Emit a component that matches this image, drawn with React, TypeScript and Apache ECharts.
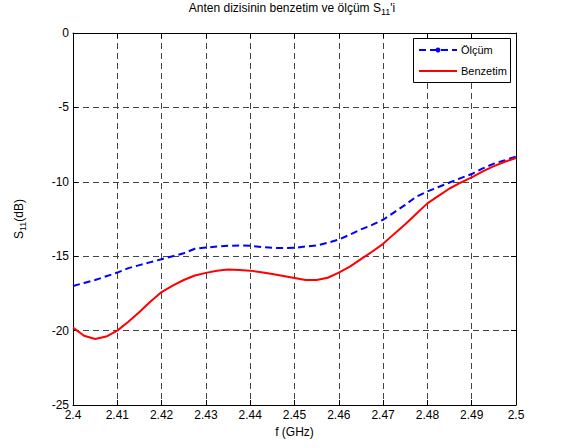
import React, { useEffect, useRef } from "react";
import * as echarts from "echarts";

const freq = [
  2.4, 2.4025, 2.405, 2.4075, 2.41, 2.4125, 2.415, 2.4175, 2.42, 2.4225,
  2.425, 2.4275, 2.43, 2.4325, 2.435, 2.4375, 2.44, 2.4425, 2.445, 2.4475,
  2.45, 2.4525, 2.455, 2.4575, 2.46, 2.4625, 2.465, 2.4675, 2.47, 2.4725,
  2.475, 2.4775, 2.48, 2.4825, 2.485, 2.4875, 2.49, 2.4925, 2.495, 2.4975, 2.5,
];

const measured = [
  -17.0, -16.8, -16.6, -16.35, -16.1, -15.8, -15.6, -15.4, -15.2, -15.0,
  -14.8, -14.5, -14.42, -14.35, -14.3, -14.28, -14.3, -14.38, -14.44, -14.45,
  -14.44, -14.35, -14.28, -14.1, -13.88, -13.55, -13.2, -12.9, -12.55, -12.05,
  -11.55, -11.0, -10.65, -10.35, -10.05, -9.75, -9.48, -9.1, -8.78, -8.55, -8.3,
];

const simulated = [
  -19.8, -20.35, -20.56, -20.4, -20.0, -19.4, -18.75, -18.05, -17.41, -16.98,
  -16.6, -16.3, -16.12, -15.98, -15.9, -15.92, -15.97, -16.08, -16.2, -16.33,
  -16.46, -16.6, -16.6, -16.45, -16.1, -15.7, -15.2, -14.7, -14.17, -13.5,
  -12.85, -12.15, -11.45, -10.95, -10.45, -10.05, -9.7, -9.3, -8.95, -8.65, -8.4,
];

const seriesNames = ["Ölçüm", "Benzetim"];
const titleMain = "Anten dizisinin benzetim ve ölçüm S";
const titleSub = "11";
const titleTail = "'i";
const xName = "f (GHz)";

export default function App() {
  const ref = useRef<HTMLDivElement>(null);
  useEffect(() => {
    document.body.style.margin = "0";
    const chart = echarts.init(ref.current!, null, { renderer: "svg" });
    const font = "'Liberation Sans', Arial, sans-serif";
    const W = 566, H = 448;
    const L = 73, R = 516, T = 33, B = 405;
    const gridLine = { show: true, lineStyle: { color: "#444", type: [6, 4], width: 1 } };
    const axisLine = { show: true, onZero: false, lineStyle: { color: "#000", width: 1 } };
    const tick = { show: true, inside: true, length: 5, lineStyle: { color: "#000", width: 1 } };
    const fmt = (v: number) => String(Math.round(v * 100) / 100);
    chart.setOption({
      animation: false,
      backgroundColor: "#fff",
      grid: { left: L, right: W - R, top: T, bottom: H - B, containLabel: false },
      xAxis: [
        {
          type: "value", min: 2.4, max: 2.5, interval: 0.01, position: "bottom",
          axisLine, axisTick: tick,
          axisLabel: { color: "#000", fontFamily: font, fontSize: 12, margin: 4, formatter: fmt, showMinLabel: true, showMaxLabel: true },
          splitLine: gridLine,
        },
        {
          type: "value", min: 2.4, max: 2.5, interval: 0.01, position: "top",
          axisLine, axisTick: tick, axisLabel: { show: false }, splitLine: { show: false },
        },
      ],
      yAxis: [
        {
          type: "value", min: -25, max: 0, interval: 5, position: "left",
          axisLine, axisTick: tick,
          axisLabel: { color: "#000", fontFamily: font, fontSize: 12, margin: 4, showMinLabel: true, showMaxLabel: true },
          splitLine: gridLine,
        },
        {
          type: "value", min: -25, max: 0, interval: 5, position: "right",
          axisLine, axisTick: tick, axisLabel: { show: false }, splitLine: { show: false },
        },
      ],
      series: [
        {
          name: seriesNames[0], type: "line", xAxisIndex: 0, yAxisIndex: 0,
          data: freq.map((f, i) => [f, measured[i]]),
          showSymbol: false, symbol: "none",
          lineStyle: { color: "#0000ff", width: 2, type: [7, 4] },
          z: 3,
        },
        {
          name: seriesNames[1], type: "line", xAxisIndex: 0, yAxisIndex: 0,
          data: freq.map((f, i) => [f, simulated[i]]),
          showSymbol: false, symbol: "none",
          lineStyle: { color: "#ff0000", width: 2 },
          z: 4,
        },
      ],
      graphic: [
        {
          type: "text", x: 292, y: 2, z: 100,
          style: {
            text: `{m|${titleMain}}{s|${titleSub}}{m|${titleTail}}`,
            align: "center", verticalAlign: "top",
            rich: {
              m: { fontFamily: font, fontSize: 12, lineHeight: 14, verticalAlign: "top", fill: "#000" },
              s: { fontFamily: font, fontSize: 9, lineHeight: 10, verticalAlign: "bottom", fill: "#000" },
            },
          },
        },
        {
          type: "text", x: (L + R) / 2, y: 426, z: 100,
          style: { text: xName, fontFamily: font, fontSize: 12, align: "center", verticalAlign: "top", fill: "#000" },
        },
        {
          type: "text", x: 20, y: (T + B) / 2, rotation: Math.PI / 2, z: 100,
          style: {
            text: "{m|S}{s|11}{m|(dB)}",
            align: "center", verticalAlign: "middle",
            rich: {
              m: { fontFamily: font, fontSize: 12, lineHeight: 14, verticalAlign: "top", fill: "#000" },
              s: { fontFamily: font, fontSize: 9, lineHeight: 10, verticalAlign: "bottom", fill: "#000" },
            },
          },
        },
        {
          type: "rect", z: 100,
          shape: { x: 413.5, y: 38.5, width: 97, height: 44 },
          style: { fill: "#fff", stroke: "#000", lineWidth: 1 },
        },
        {
          type: "line", z: 101,
          shape: { x1: 419, y1: 50, x2: 457, y2: 50 },
          style: { stroke: "#0000ff", lineWidth: 2, lineDash: [7, 4] },
        },
        {
          type: "circle", z: 102,
          shape: { cx: 438, cy: 50, r: 2.5 },
          style: { fill: "#0000ff" },
        },
        {
          type: "text", x: 461, y: 50, z: 101,
          style: { text: seriesNames[0], fontFamily: font, fontSize: 11, verticalAlign: "middle", fill: "#000" },
        },
        {
          type: "line", z: 101,
          shape: { x1: 419, y1: 71, x2: 457, y2: 71 },
          style: { stroke: "#ff0000", lineWidth: 2 },
        },
        {
          type: "text", x: 461, y: 71, z: 101,
          style: { text: seriesNames[1], fontFamily: font, fontSize: 11, verticalAlign: "middle", fill: "#000" },
        },
      ],
    });
    return () => chart.dispose();
  }, []);
  return <div ref={ref} style={{ position: "absolute", left: 0, top: 0, width: 566, height: 448 }} />;
}
